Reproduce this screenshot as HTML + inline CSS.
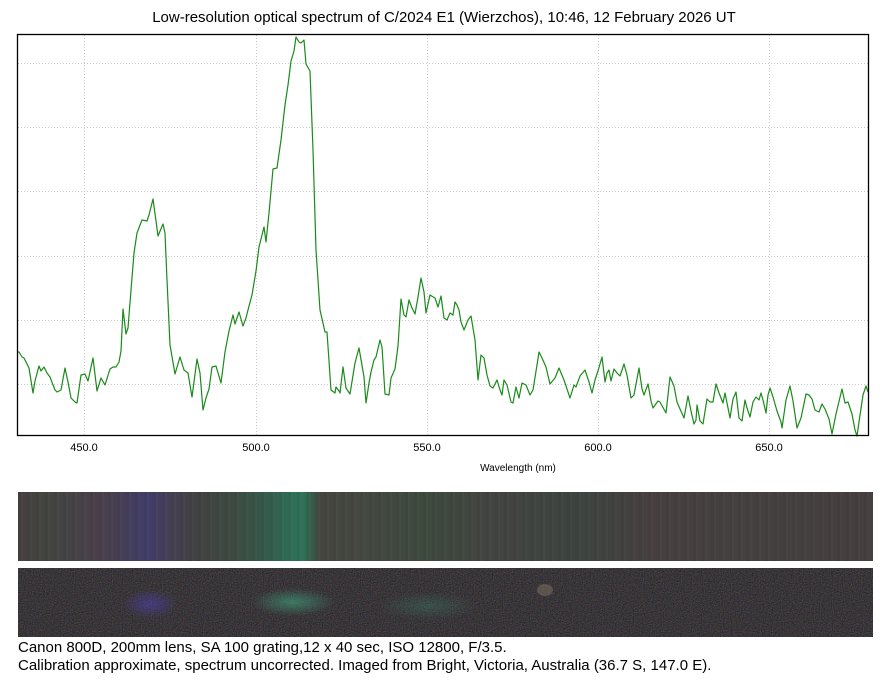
<!DOCTYPE html>
<html><head><meta charset="utf-8"><style>
body{margin:0;background:#fff;width:888px;height:685px;overflow:hidden;font-family:"Liberation Sans",Arial,sans-serif;position:relative}
.t{position:absolute;white-space:nowrap;color:#000}
</style></head><body>
<div class="t" style="left:0;width:888px;text-align:center;top:9px;font-size:15px">Low-resolution optical spectrum of C/2024 E1 (Wierzchos), 10:46, 12 February 2026 UT</div>
<svg width="888" height="490" style="position:absolute;left:0;top:0">
<g stroke="#c8c8c8" stroke-width="1" stroke-dasharray="1,2" fill="none">
<line x1="18" y1="63.5" x2="868" y2="63.5"/><line x1="18" y1="127.5" x2="868" y2="127.5"/><line x1="18" y1="191.5" x2="868" y2="191.5"/><line x1="18" y1="256.5" x2="868" y2="256.5"/><line x1="18" y1="320.5" x2="868" y2="320.5"/><line x1="18" y1="384.5" x2="868" y2="384.5"/>
<line x1="84.5" y1="35" x2="84.5" y2="435"/><line x1="256.5" y1="35" x2="256.5" y2="435"/><line x1="427.5" y1="35" x2="427.5" y2="435"/><line x1="598.5" y1="35" x2="598.5" y2="435"/><line x1="769.5" y1="35" x2="769.5" y2="435"/>
</g>
<polyline fill="none" stroke="#1a8a1a" stroke-width="1.2" stroke-linejoin="round" points="18,352 19,352 22,357 24,358 27,364 29,368 33,393 35,381 39,366 41,371 44,367 47,373 50,377 55,390 57,392 61,390 65,368 68,382 71,398 75,402 77,403 81,375 85,374 88,381 93,358 97,391 101,378 105,385 110,369 113,367 116,367 119,362 121,351 123,309 126,334 128,328 131,290 134,253 137,233 142,220 147,221 149,215 153,199 156,221 158,236 163,224 165,233 167,280 170,345 175,374 180,357 184,370 188,373 192,397 197,359 200,373 203,410 206,398 209,389 212,367 216,366 221,383 225,352 229,331 233,315 235,324 239,312 243,326 246,318 249,306 252,295 256,271 259,247 264,227 266,242 269,213 273,169 277,168 281,140 285,105 288,85 291,61 294,51 296,37 299,42 301,43 304,40 306,64 310,71 313,150 316,250 320,310 325,332 327,332 331,390 335,393 336,387 339,391 340,393 343,367 346,388 350,394 355,363 359,348 364,377 366,403 369,383 371,372 374,360 376,357 380,340 382,347 385,394 389,395 391,378 395,369 398,346 401,299 404,315 406,317 409,300 412,308 415,314 418,297 421,278 424,292 426,313 430,295 435,298 438,307 441,296 444,318 447,320 450,313 453,315 455,302 457,305 459,310 461,322 464,330 468,320 471,316 475,340 478,380 481,355 484,358 487,375 490,386 493,388 497,380 500,390 502,395 504,380 507,385 511,402 513,403 516,387 519,398 522,383 526,385 530,395 533,390 537,365 539,352 542,358 546,367 550,384 555,378 559,368 564,380 568,392 570,398 574,385 576,387 580,376 585,370 589,382 592,393 595,380 598,371 602,357 605,382 607,373 609,370 611,381 614,369 617,373 620,376 624,364 627,375 631,398 634,395 639,368 642,389 644,395 648,384 651,401 653,408 658,401 660,402 666,413 670,377 674,386 677,402 680,409 684,418 688,396 691,411 694,424 696,420 697,405 700,421 703,424 707,399 710,402 713,402 716,384 719,393 723,403 725,393 730,418 733,399 736,392 739,418 742,421 745,400 747,408 750,417 753,402 756,397 759,400 761,393 763,400 766,413 768,395 770,388 773,397 777,411 781,422 782,428 786,400 790,386 793,401 797,428 801,418 806,394 809,395 812,399 815,410 819,412 822,404 825,409 829,419 832,434 836,414 842,389 845,403 848,402 852,414 855,430 857,436 859,422 863,395 866,386 868,392"/>
<rect x="17.5" y="34.5" width="851" height="401" fill="none" stroke="#000" stroke-width="1.3"/>
<g font-family="Liberation Sans,Arial,sans-serif" font-size="11" text-anchor="middle" fill="#000">
<text x="84" y="451">450.0</text><text x="256" y="451">500.0</text><text x="427" y="451">550.0</text><text x="598" y="451">600.0</text><text x="769" y="451">650.0</text>
<text x="518" y="471" font-size="10">Wavelength (nm)</text>
</g>
</svg>
<div style="position:absolute;left:18px;top:492px;width:855px;height:69px;background:
repeating-linear-gradient(90deg,rgba(0,0,0,0.04) 0 3px,rgba(255,255,255,0.02) 3px 5px,rgba(0,0,0,0) 5px 9px),
linear-gradient(90deg,#45403f 0,#434541 30px,#49404a 80px,#463f52 100px,#403d6a 130px,#453f58 148px,#424240 180px,#3d4a42 215px,#35584a 245px,#2f6c55 270px,#2f7258 285px,#35604c 292px,#45463f 302px,#434840 350px,#3d4a3e 410px,#434441 470px,#3d4440 560px,#473f3f 640px,#444040 720px,#453f3e 855px)"></div>
<svg width="855" height="69" style="position:absolute;left:18px;top:568px">
<defs>
<filter id="n" x="0" y="0" width="100%" height="100%" color-interpolation-filters="sRGB"><feTurbulence type="fractalNoise" baseFrequency="0.9" numOctaves="2" seed="3"/><feColorMatrix values="0.45 0 0 0 0.0  0 0.42 0 0 0.0  0 0 0.45 0 0.0  0 0 0 0 1"/></filter>
<radialGradient id="b"><stop offset="0" stop-color="#5040b0" stop-opacity="0.6"/><stop offset="1" stop-color="#5040b0" stop-opacity="0"/></radialGradient>
<radialGradient id="g"><stop offset="0" stop-color="#40a880" stop-opacity="0.6"/><stop offset="1" stop-color="#40a880" stop-opacity="0"/></radialGradient>
</defs>
<rect width="855" height="69" fill="#3a3838"/>
<rect width="855" height="69" filter="url(#n)" opacity="0.9"/>
<ellipse cx="132" cy="36" rx="28" ry="15" fill="url(#b)"/>
<ellipse cx="275" cy="34" rx="42" ry="14" fill="url(#g)"/>
<ellipse cx="410" cy="38" rx="50" ry="14" fill="url(#g)" opacity="0.4"/>
<ellipse cx="527" cy="22" rx="8" ry="6" fill="#a09070" opacity="0.35"/>
</svg>
<div class="t" style="left:18px;top:639px;font-size:15px">Canon 800D, 200mm lens, SA 100 grating,12 x 40 sec, ISO 12800, F/3.5.</div>
<div class="t" style="left:18px;top:657px;font-size:15px">Calibration approximate, spectrum uncorrected. Imaged from Bright, Victoria, Australia (36.7 S, 147.0 E).</div>
</body></html>
